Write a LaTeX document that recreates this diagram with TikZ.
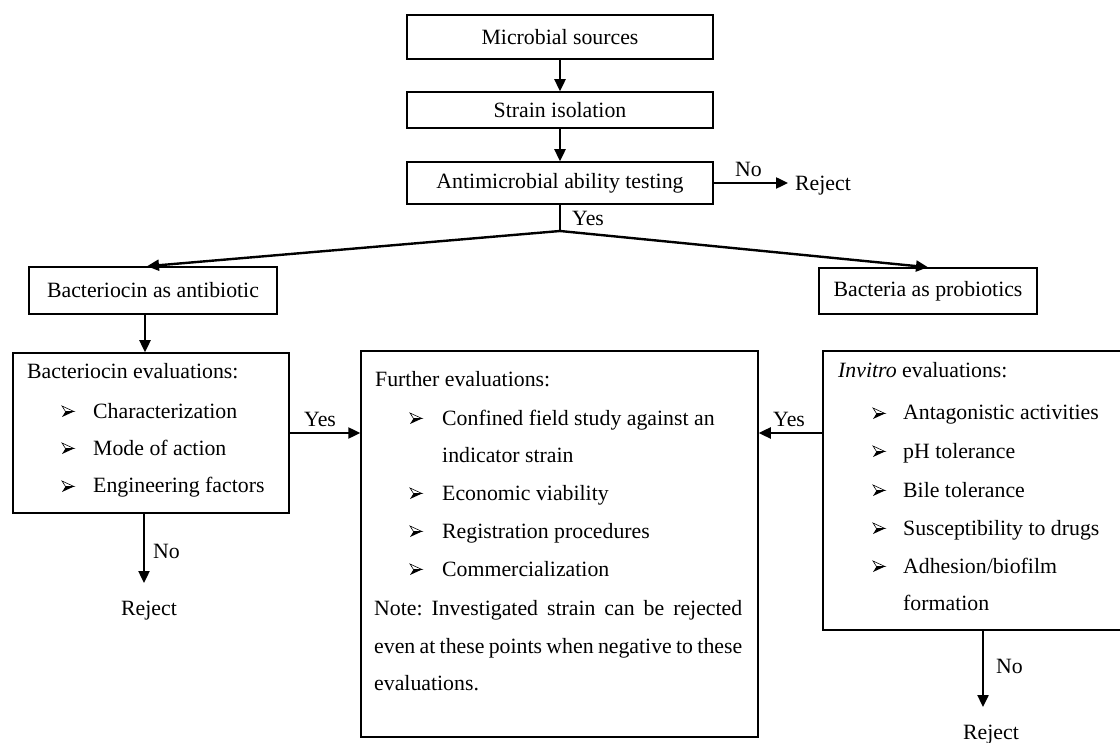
\documentclass[tikz,border=0pt]{standalone}
\usepackage{fontspec}
\setmainfont{Liberation Serif}
\usetikzlibrary{arrows.meta,calc}
\frenchspacing
\begin{document}
\begin{tikzpicture}[x=1pt,y=-1pt,
  txt/.style={font=\fontsize{21.8}{37.7}\selectfont, inner sep=0pt, anchor=base west},
  box/.style={draw, line width=1.5pt, inner sep=0pt, font=\fontsize{21.8}{37.7}\selectfont},
  arr/.style={line width=2.4pt, -{Triangle[length=12pt,width=11pt]}},
  ln/.style={line width=2.4pt},
  bul/.pic={
    \fill[black] (0,-1) -- (12,-6.5) -- (3.5,-6.5) -- cycle;
    \draw[line width=0.6pt, fill=white] (0,-12) -- (12,-6.5) -- (3.5,-6.5) -- cycle;
  }]
\useasboundingbox (0,0) rectangle (1120,743);

% top chain
\node[box, minimum width=306pt, minimum height=44pt] (ms) at (560,37) {Microbial sources};
\node[box, minimum width=306pt, minimum height=36pt] (si) at (560,110) {Strain isolation};
\node[box, minimum width=306pt, minimum height=42pt] (amt) at (560,183) {Antimicrobial ability testing};
\node[txt] (rej1) at (795,191) {Reject};
\node[txt] (no1) at (735,177) {No};
\coordinate (t1) at (788,183);
\coordinate (split) at (560,231);
\node[txt] (yes1) at (572,226) {Yes};

\draw[arr] (ms.south) -- (si.north);
\draw[arr] (si.south) -- (amt.north);
\draw[arr] (amt.east) -- (t1);
\draw[ln] (amt.south) -- (split);

% second level
\node[box, minimum width=248pt, minimum height=47pt] (baa) at (153,290.5) {Bacteriocin as antibiotic};
\node[box, minimum width=218pt, minimum height=46pt] (bap) at (928,291) {Bacteria as probiotics};
\draw[arr] (split) -- ([xshift=-6pt]baa.north);
\draw[arr] (split) -- (bap.north);

% evaluation boxes
\node[box, minimum width=276pt, minimum height=160pt] (be) at (151,433) {};
\node[box, minimum width=397pt, minimum height=386pt] (fe) at (559.5,544) {};
\node[box, minimum width=299pt, minimum height=279pt] (ie) at (972.5,490.5) {};

\draw[arr] ([xshift=-8pt]baa.south) -- ([xshift=-6pt]be.north);
\draw[arr] (be.east) -- (be.east -| fe.west);
\node[txt] (yes2) at (304,427) {Yes};
\draw[arr] (ie.west |- be.east) -- (fe.east |- be.east);
\node[txt] (yes3) at (773,427) {Yes};

\coordinate (t3) at (144,583);
\draw[arr] (be.south -| t3) -- (t3);
\node[txt] (no2) at (153,558) {No};
\node[txt] (rej2) at (121,615) {Reject};

\coordinate (t4) at (983,707);
\draw[arr] (ie.south -| t4) -- (t4);
\node[txt] (no3) at (996,673) {No};
\node[txt] (rej3) at (963,739) {Reject};

% bacteriocin evaluations text
\node[txt] (beh) at (27,379) {Bacteriocin evaluations:};
\pic at (62,418) {bul};
\node[txt] (be1) at (93,418) {Characterization};
\pic at (62,455) {bul};
\node[txt] (be2) at (93,455) {Mode of action};
\pic at (62,493) {bul};
\node[txt] (be3) at (93,493) {Engineering factors};

% further evaluations text
\node[txt] (feh) at (375,387) {Further evaluations:};
\pic at (410,425) {bul};
\node[txt] (fe1) at (442,425) {Confined field study against an};
\node[txt] (fe1b) at (442,463) {indicator strain};
\pic at (410,500) {bul};
\node[txt] (fe2) at (442,500) {Economic viability};
\pic at (410,538) {bul};
\node[txt] (fe3) at (442,538) {Registration procedures};
\pic at (410,576) {bul};
\node[txt] (fe4) at (442,576) {Commercialization};
\node[txt] (n1) at (374,615) {\makebox[368pt][s]{Note: Investigated strain can be rejected}};
\node[txt] (n2) at (374,653) {\makebox[368pt][s]{even at these points when negative to these}};
\node[txt] (n3) at (374,690) {evaluations.};

% invitro evaluations text
\node[txt] (ieh) at (838,378) {\textit{Invitro} evaluations:};
\pic at (873,420) {bul};
\node[txt] (ie1) at (903,420) {Antagonistic activities};
\pic at (873,458) {bul};
\node[txt] (ie2) at (903,458) {pH tolerance};
\pic at (873,497) {bul};
\node[txt] (ie3) at (903,497) {Bile tolerance};
\pic at (873,535) {bul};
\node[txt] (ie4) at (903,535) {Susceptibility to drugs};
\pic at (873,573) {bul};
\node[txt] (ie5) at (903,573) {Adhesion/biofilm};
\node[txt] (ie5b) at (903,610) {formation};
\end{tikzpicture}
\end{document}
